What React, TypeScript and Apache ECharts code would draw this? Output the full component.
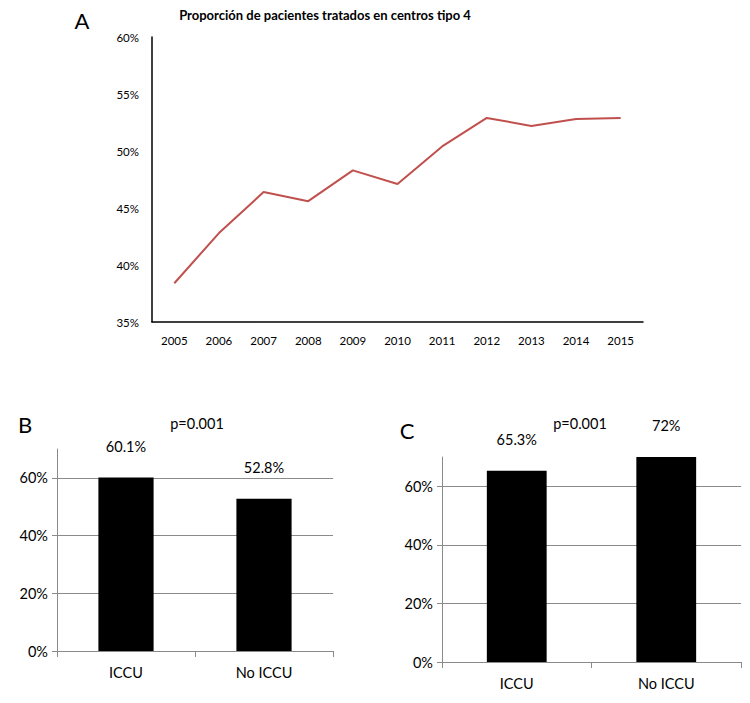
import React, { useEffect, useRef } from "react";
import * as echarts from "echarts";

const years = ["2005", "2006", "2007", "2008", "2009", "2010", "2011", "2012", "2013", "2014", "2015"];
const proportionA = [38.4, 42.8, 46.4, 45.6, 48.3, 47.1, 50.4, 52.9, 52.2, 52.8, 52.9];
const barCategories = ["ICCU", "No ICCU"];
const valuesB = [60.1, 52.8];
const valuesC = [65.3, 72];
const pValueText = "p=0.001";
const titleA = "Proporción de pacientes tratados en centros tipo 4";
const yTicksBC = [0, 20, 40, 60];

const FONT = "Lato, 'Open Sans', sans-serif";
const GRAY = "#8a8a8a";
const TXT = "#000000";

function txt(text: string, x: number, y: number, size: number, weight: string = "normal") {
  return {
    type: "text",
    x,
    y,
    style: {
      text,
      fill: TXT,
      font: `${weight} ${size}px ${FONT}`,
      align: "center",
      verticalAlign: "middle",
      textAlign: "center",
      textVerticalAlign: "middle",
    },
  };
}

export default function App() {
  const ref = useRef<HTMLDivElement>(null);
  useEffect(() => {
    if (!ref.current) return;
    const chart = echarts.init(ref.current, undefined, { renderer: "svg" });
    const bcYAxis = (gridIndex: number) => ({
      type: "value",
      gridIndex,
      min: 0,
      max: 70,
      interval: 20,
      axisLine: { show: true, lineStyle: { color: GRAY, width: 1 } },
      axisTick: { show: true, length: 5, lineStyle: { color: GRAY }, customValues: yTicksBC },
      axisLabel: {
        fontSize: 14.5,
        color: TXT,
        fontFamily: FONT,
        margin: 9,
        formatter: (v: number) => `${v}%`,
        customValues: yTicksBC,
      },
      splitLine: {
        show: true,
        lineStyle: { color: [GRAY, GRAY, GRAY, GRAY, "rgba(0,0,0,0)"], width: 1 },
      },
    });
    const bcXAxis = (gridIndex: number) => ({
      type: "category",
      gridIndex,
      data: barCategories,
      axisLine: { show: true, lineStyle: { color: GRAY, width: 1 } },
      axisTick: { show: true, length: 6, interval: 0, lineStyle: { color: GRAY } },
      axisLabel: { fontSize: 14.5, color: TXT, fontFamily: FONT, margin: 14 },
    });
    const barLabel = {
      show: true,
      position: "top",
      distance: 24,
      fontSize: 14.5,
      color: TXT,
      fontFamily: FONT,
      formatter: (p: any) => `${p.value}%`,
    };
    chart.setOption({
      animation: false,
      backgroundColor: "#ffffff",
      grid: [
        { left: 152, top: 37, width: 491, height: 285 },
        { left: 57, top: 449, width: 276, height: 202 },
        { left: 442, top: 457, width: 299, height: 205 },
      ],
      xAxis: [
        {
          type: "category",
          gridIndex: 0,
          data: years,
          axisLine: { show: true, lineStyle: { color: "#000", width: 1.5 } },
          axisTick: { show: false },
          axisLabel: { fontSize: 11.5, color: TXT, fontFamily: FONT, margin: 12 },
        },
        bcXAxis(1),
        bcXAxis(2),
      ],
      yAxis: [
        {
          type: "value",
          gridIndex: 0,
          min: 35,
          max: 60,
          interval: 5,
          axisLine: { show: true, lineStyle: { color: "#000", width: 1.5 } },
          axisTick: { show: false },
          splitLine: { show: false },
          axisLabel: {
            fontSize: 11.5,
            color: TXT,
            fontFamily: FONT,
            margin: 13,
            formatter: (v: number) => `${v}%`,
          },
        },
        bcYAxis(1),
        bcYAxis(2),
      ],
      series: [
        {
          type: "line",
          xAxisIndex: 0,
          yAxisIndex: 0,
          data: proportionA,
          symbol: "none",
          lineStyle: { color: "#C0504D", width: 2 },
        },
        {
          type: "bar",
          xAxisIndex: 1,
          yAxisIndex: 1,
          data: valuesB,
          barWidth: "40%",
          itemStyle: { color: "#000" },
          label: barLabel,
        },
        {
          type: "bar",
          xAxisIndex: 2,
          yAxisIndex: 2,
          data: valuesC,
          barWidth: "40%",
          clip: true,
          itemStyle: { color: "#000" },
          label: barLabel,
        },
      ],
      graphic: [
        txt("A", 82, 20, 22),
        txt(titleA, 325, 15, 13, "bold"),
        txt("B", 25, 424, 22),
        txt(pValueText, 197, 423, 14.5),
        txt("C", 407, 430, 22),
        txt(pValueText, 580, 423, 14.5),
      ],
    });
    return () => chart.dispose();
  }, []);
  return (
    <div
      ref={ref}
      style={{ position: "fixed", left: 0, top: 0, width: 750, height: 703, background: "#fff" }}
    />
  );
}
